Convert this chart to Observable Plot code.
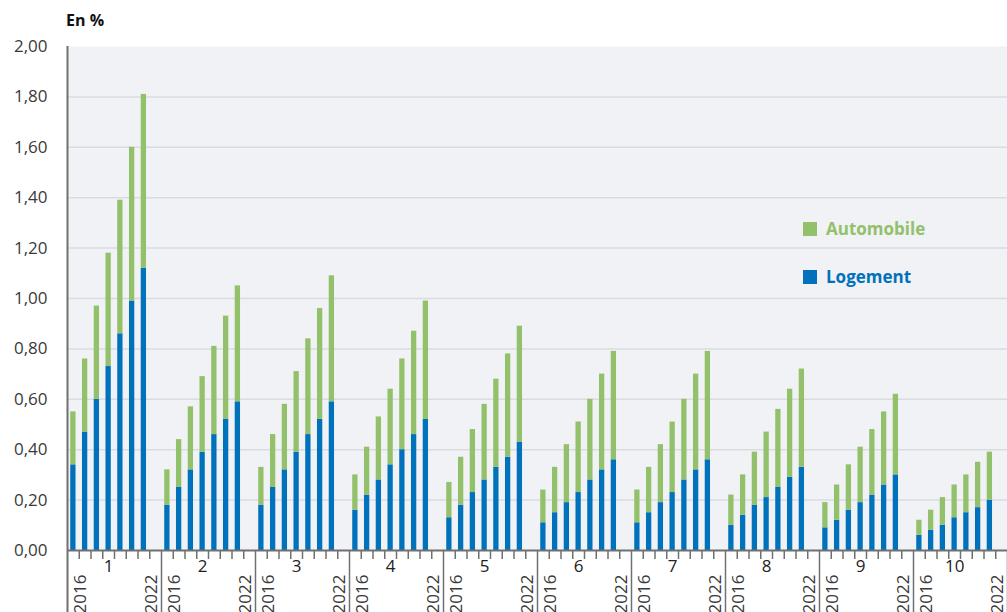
<!DOCTYPE html>
<html><head><meta charset="utf-8">
<script src="https://cdn.jsdelivr.net/npm/d3@7"></script>
<script src="https://cdn.jsdelivr.net/npm/@observablehq/plot@0.6"></script>
<style>
html,body{margin:0;padding:0;background:#fff;}
#wrap{position:relative;width:1007px;height:612px;overflow:hidden;font-family:"Open Sans",sans-serif;}
#unit{position:absolute;left:66px;top:9px;font-weight:700;font-size:16px;line-height:22px;color:#111;}
#chart{position:absolute;left:0;top:0;}
.leg{position:absolute;left:803px;font-weight:700;font-size:17px;line-height:20px;display:flex;align-items:center;}
.leg .sw{width:14px;height:14px;margin-right:9px;display:inline-block;}
</style></head>
<body>
<div id="wrap">
  <div id="chart"></div>
  <div id="unit">En %</div>
  <div class="leg" id="legA" style="top:219px"></div>
  <div class="leg" id="legL" style="top:267px"></div>
</div>
<script>
const groups = ["1","2","3","4","5","6","7","8","9","10"];
const years = ["2016","2017","2018","2019","2020","2021","2022"];
const series = ["Logement","Automobile"];
const colors = ["#0071bb","#93c06a"];
const logement = [
  [0.34,0.47,0.60,0.73,0.86,0.99,1.12],
  [0.18,0.25,0.32,0.39,0.46,0.52,0.59],
  [0.18,0.25,0.32,0.39,0.46,0.52,0.59],
  [0.16,0.22,0.28,0.34,0.40,0.46,0.52],
  [0.13,0.18,0.23,0.28,0.33,0.37,0.43],
  [0.11,0.15,0.19,0.23,0.28,0.32,0.36],
  [0.11,0.15,0.19,0.23,0.28,0.32,0.36],
  [0.10,0.14,0.18,0.21,0.25,0.29,0.33],
  [0.09,0.12,0.16,0.19,0.22,0.26,0.30],
  [0.06,0.08,0.10,0.13,0.15,0.17,0.20]
];
const automobile = [
  [0.21,0.29,0.37,0.45,0.53,0.61,0.69],
  [0.14,0.19,0.25,0.30,0.35,0.41,0.46],
  [0.15,0.21,0.26,0.32,0.38,0.44,0.50],
  [0.14,0.19,0.25,0.30,0.36,0.41,0.47],
  [0.14,0.19,0.25,0.30,0.35,0.41,0.46],
  [0.13,0.18,0.23,0.28,0.32,0.38,0.43],
  [0.13,0.18,0.23,0.28,0.32,0.38,0.43],
  [0.12,0.16,0.21,0.26,0.31,0.35,0.39],
  [0.10,0.14,0.18,0.22,0.26,0.29,0.32],
  [0.06,0.08,0.11,0.13,0.15,0.18,0.19]
];
const yTicks = [0,0.2,0.4,0.6,0.8,1.0,1.2,1.4,1.6,1.8,2.0];

const slots = [...years, "gap"];
const key = (g, s) => g + "|" + s;
const domain = groups.flatMap(g => slots.map(s => key(g, s)));
const rows = [];
groups.forEach((g, i) => years.forEach((yr, j) => {
  rows.push({key: key(g, yr), serie: "Logement", value: logement[i][j]});
  rows.push({key: key(g, yr), serie: "Automobile", value: automobile[i][j]});
}));
const fr = d3.formatLocale({decimal: ",", thousands: " ", grouping: [3], currency: ["", "€"]});
const fmt = fr.format(".2f");

const W = 1007, H = 640, ML = 67, MR = 0, MT = 46, MB = 90;
const plotH = H - MT - MB;
const step = (W - ML - MR) / domain.length;
const axisColor = "#707070";

const chart = Plot.plot({
  width: W, height: H,
  marginLeft: ML, marginRight: MR, marginTop: MT, marginBottom: MB,
  style: {fontFamily: "'Open Sans', sans-serif", fontSize: "17px", background: "transparent", overflow: "visible"},
  x: {type: "band", domain, paddingInner: 0.55, paddingOuter: 0.275, axis: null},
  y: {domain: [0, 2]},
  color: {domain: series, range: colors},
  marks: [
    Plot.frame({fill: "#f0f2f5", stroke: null}),
    Plot.gridY(yTicks.filter(v => v > 0 && v < 2), {stroke: "#d9dbdf", strokeOpacity: 1, strokeWidth: 1.5}),
    Plot.axisY(yTicks, {tickSize: 0, tickPadding: 20, tickFormat: fmt, label: null, fill: "#3a3a3a", fontSize: 17}),
    Plot.barY(rows, {x: "key", y: "value", fill: "serie", order: series}),
    // y axis line
    Plot.ruleX([domain[0]], {dx: -step / 2, stroke: axisColor, strokeWidth: 2, insetBottom: -MB}),
    // x axis baseline
    Plot.ruleY([0], {stroke: axisColor, strokeWidth: 2}),
    // group separators below the axis
    Plot.ruleX(groups.map(g => key(g, "gap")), {dx: step / 2, stroke: axisColor, strokeWidth: 1.5, insetTop: plotH, insetBottom: -MB}),
    // small ticks between years
    Plot.ruleX(groups.flatMap(g => years.map(y => key(g, y))), {dx: step / 2, stroke: axisColor, strokeWidth: 1.5, insetTop: plotH, insetBottom: -9}),
    // group labels
    Plot.text(groups, {x: g => key(g, years[3]), text: d => d, frameAnchor: "bottom", dy: 21, fill: "#222", fontSize: 17}),
    // year labels
    Plot.text(groups.flatMap(g => [{g, y: years[0]}, {g, y: years[6]}]), {
      x: d => key(d.g, d.y), text: d => d.y, frameAnchor: "bottom", rotate: -90, textAnchor: "end",
      dy: 24, dx: 13, fill: "#3a3a3a", fontSize: 17
    })
  ]
});
document.getElementById("chart").appendChild(chart);

function leg(id, name, color) {
  const el = document.getElementById(id);
  el.innerHTML = `<span class="sw" style="background:${color}"></span><span style="color:${color}">${name}</span>`;
}
leg("legA", series[1], colors[1]);
leg("legL", series[0], colors[0]);
</script>
</body></html>
